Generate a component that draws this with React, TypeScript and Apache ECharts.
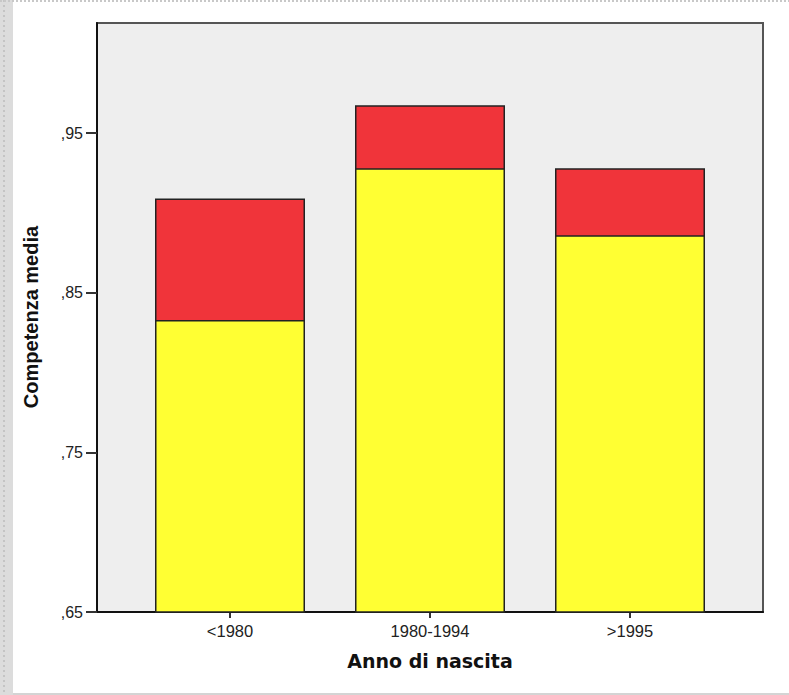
import React, { useEffect, useRef } from "react";
import * as echarts from "echarts";

const categories = ["<1980", "1980-1994", ">1995"];
const yellowValues = [0.833, 0.928, 0.886];
const redValues = [0.909, 0.9675, 0.928];
const yTicks = [0.65, 0.75, 0.85, 0.95];

const fmtY = (v: number) => v.toFixed(2).replace(/^0\./, ",");

export default function App() {
  const ref = useRef<HTMLDivElement>(null);
  useEffect(() => {
    if (!ref.current) return;
    const chart = echarts.init(ref.current, null, { renderer: "svg" });
    const idx = categories.map((_, i) => i);
    chart.setOption({
      animation: false,
      backgroundColor: "#ffffff",
      grid: {
        left: 97,
        top: 23,
        width: 666,
        height: 589,
        show: true,
        backgroundColor: "#eeeeee",
        borderColor: "#555555",
        borderWidth: 2,
      },
      xAxis: {
        type: "value",
        min: -0.665,
        max: 2.665,
        splitLine: { show: false },
        axisLine: { show: true, onZero: false, lineStyle: { color: "#111", width: 2 } },
        axisTick: {
          show: true,
          inside: false,
          customValues: idx,
          length: 6,
          lineStyle: { color: "#333", width: 2 },
        },
        axisLabel: {
          customValues: idx,
          formatter: (v: number) => categories[Math.round(v)] ?? "",
          color: "#222",
          fontFamily: "Liberation Sans",
          fontSize: 16.5,
          margin: 10,
        },
      },
      yAxis: {
        type: "value",
        min: 0.65,
        max: 1.019,
        splitLine: { show: false },
        axisLine: { show: true, onZero: false, lineStyle: { color: "#111", width: 2 } },
        axisTick: {
          show: true,
          inside: false,
          customValues: yTicks,
          length: 11,
          lineStyle: { color: "#333", width: 2 },
        },
        axisLabel: {
          customValues: yTicks,
          formatter: (v: number) => fmtY(v),
          color: "#222",
          fontFamily: "Liberation Sans",
          fontSize: 16,
          margin: 14,
        },
      },
      series: [
        {
          type: "bar",
          data: redValues.map((v, i) => [i, v]),
          barWidth: 150,
          itemStyle: { color: "#f0343a", borderColor: "#222", borderWidth: 1.5 },
          z: 2,
        },
        {
          type: "bar",
          data: yellowValues.map((v, i) => [i, v]),
          barWidth: 150,
          barGap: "-100%",
          itemStyle: { color: "#ffff33", borderColor: "#222", borderWidth: 1.5 },
          z: 3,
        },
      ],
      graphic: [
        { type: "rect", shape: { x: 0, y: 0, width: 13, height: 695 }, style: { fill: "#dcdcdc" }, silent: true },
        { type: "line", shape: { x1: 4, y1: 0, x2: 4, y2: 695 }, style: { stroke: "#c4c4c4", lineWidth: 2, lineDash: [2, 3] }, silent: true },
        { type: "line", shape: { x1: 0, y1: 1, x2: 789, y2: 1 }, style: { stroke: "#c8c8c8", lineWidth: 2, lineDash: [2, 2] }, silent: true },
        { type: "line", shape: { x1: 13, y1: 694, x2: 789, y2: 694 }, style: { stroke: "#d4d4d4", lineWidth: 2 }, silent: true },
        {
          type: "text",
          x: 430,
          y: 661,
          style: {
            text: "Anno di nascita",
            fill: "#111",
            font: "bold 19px 'DejaVu Sans'",
            textAlign: "center",
            textVerticalAlign: "middle",
          },
        },
        {
          type: "text",
          x: 31,
          y: 317,
          rotation: Math.PI / 2,
          style: {
            text: "Competenza media",
            fill: "#111",
            font: "bold 20px 'Liberation Sans'",
            textAlign: "center",
            textVerticalAlign: "middle",
          },
        },
      ],
    });
    return () => chart.dispose();
  }, []);
  return (
    <div
      ref={ref}
      style={{ position: "fixed", left: 0, top: 0, width: 789, height: 695 }}
    />
  );
}
